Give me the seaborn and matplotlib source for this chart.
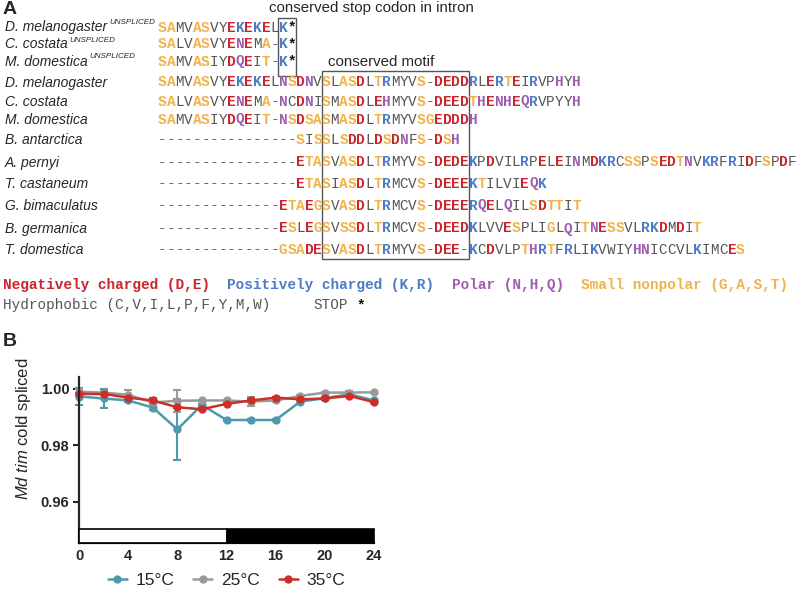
import matplotlib
matplotlib.use("Agg")
import matplotlib.pyplot as plt
from matplotlib.patches import Rectangle
import numpy as np
import pandas as pd
import seaborn as sns

# ---- panel A: alignment ----
species = ["D. melanogaster", "C. costata", "M. domestica",
           "D. melanogaster", "C. costata", "M. domestica", "B. antarctica",
           "A. pernyi", "T. castaneum", "G. bimaculatus", "B. germanica", "T. domestica"]
unspliced = [True, True, True] + [False] * 9
sequences = [
    "SAMVASVYEKEKELK*",
    "SALVASVYENEMA-K*",
    "SAMVASIYDQEIT-K*",
    "SAMVASVYEKEKELNSDNVSLASDLTRMYVS-DEDDRLERTEIRVPHYH",
    "SALVASVYENEMA-NCDNISMASDLEHMYVS-DEEDTHENHEQRVPYYH",
    "SAMVASIYDQEIT-NSDSASMASDLTRMYVSGEDDDH",
    "----------------SISSLSDDLDSDNFS-DSH",
    "----------------ETASVASDLTRMYVS-DEDEKPDVILRPELEINMDKRCSSPSEDTNVKRFRIDFSPDF",
    "----------------ETASIASDLTRMCVS-DEEEKTILVIEQK",
    "--------------ETAEGSVASDLTRMCVS-DEEERQELQILSDTTIT",
    "--------------ESLEGSVSSDLTRMCVS-DEEDKLVVESPLIGLQITNESSVLRKDMDIT",
    "--------------GSADESVASDLTRMYVS-DEE-KCDVLPTHRTFRLIKVWIYHNICCVLKIMCES",
]
stop_box_cols = (14, 16)
motif_box_cols = (19, 36)

legend_row1 = [("Negatively charged (D,E)", "neg"), ("Positively charged (K,R)", "pos"),
               ("Polar (N,H,Q)", "polar"), ("Small nonpolar (G,A,S,T)", "small")]
legend_row2 = [("Hydrophobic (C,V,I,L,P,F,Y,M,W)", "hyd"), ("STOP", "hyd"), ("*", "stop")]

# ---- panel B: Md tim cold spliced ----
time_h = [0, 2, 4, 6, 8, 10, 12, 14, 16, 18, 20, 22, 24]
spliced_15 = [0.9973, 0.9966, 0.9959, 0.9934, 0.9857, 0.9943, 0.9890, 0.9890, 0.9890, 0.9955, 0.9967, 0.9981, 0.9959]
spliced_25 = [0.9990, 0.9987, 0.9979, 0.9952, 0.9958, 0.9959, 0.9959, 0.9955, 0.9959, 0.9975, 0.9987, 0.9987, 0.9988]
spliced_35 = [0.9982, 0.9982, 0.9969, 0.9959, 0.9935, 0.9928, 0.9947, 0.9959, 0.9969, 0.9963, 0.9966, 0.9975, 0.9953]
err_15 = [0.0030, 0.0032, 0.0006, 0.0008, 0.0108, 0.0004, 0.0002, 0.0002, 0.0002, 0.0004, 0.0004, 0.0006, 0.0003]
err_25 = [0.0008, 0.0006, 0.0017, 0.0010, 0.0038, 0.0002, 0.0003, 0.0016, 0.0004, 0.0003, 0.0003, 0.0006, 0.0002]
err_35 = [0.0004, 0.0003, 0.0004, 0.0010, 0.0004, 0.0004, 0.0003, 0.0004, 0.0003, 0.0003, 0.0004, 0.0003, 0.0004]
temps = ["15°C", "25°C", "35°C"]

sns.set_style("ticks")
plt.rcParams["font.family"] = ["Liberation Sans", "DejaVu Sans"]
plt.rcParams["mathtext.fontset"] = "custom"
plt.rcParams["mathtext.it"] = "Liberation Sans:italic"
plt.rcParams["mathtext.rm"] = "Liberation Sans"

class_colors = {"neg": "#C9252E", "pos": "#4D7BC6", "polar": "#A05CB0",
                "small": "#F0B24A", "hyd": "#555555", "stop": "#111111", "gap": "#666666"}
aa_class = {}
for aa in "DE":
    aa_class[aa] = "neg"
for aa in "KR":
    aa_class[aa] = "pos"
for aa in "NHQ":
    aa_class[aa] = "polar"
for aa in "GAST":
    aa_class[aa] = "small"
for aa in "CVILPFYMW":
    aa_class[aa] = "hyd"
aa_class["*"] = "stop"
aa_class["-"] = "gap"

fig = plt.figure(figsize=(7.97, 5.90), dpi=100)
ax_a = fig.add_axes([0, 0, 1, 1])
ax_a.set_xlim(0, 797)
ax_a.set_ylim(590, 0)
ax_a.axis("off")
renderer = fig.canvas.get_renderer()

X0, CW = 158, 8.63
row_y = [27, 44, 61, 82, 101, 119, 139, 162, 183, 205, 228, 249]
seq_fs = 10.4

ax_a.text(3, 9, "A", fontsize=14, fontweight="bold", va="center")
ax_a.text(3, 342, "B", fontsize=14, fontweight="bold", va="center")

for r, (name, seq, unsp) in enumerate(zip(species, sequences, unspliced)):
    yb = row_y[r] + 4.5
    t = ax_a.text(5, yb, name, style="italic", fontsize=10, va="baseline")
    if unsp:
        bb = t.get_window_extent(renderer)
        ax_a.text(bb.x1 + 2, yb - 7, "UNSPLICED", style="italic", fontsize=5.8, va="baseline")
    for col, ch in enumerate(seq):
        cls = aa_class[ch]
        bold = cls not in ("hyd", "gap")
        ax_a.text(X0 + (col + 0.5) * CW, yb, ch, ha="center", va="baseline",
                  family="Liberation Mono", fontsize=seq_fs,
                  fontweight="bold" if bold else "normal", color=class_colors[cls])

# boxes
y_stop = (18, 76)
ax_a.add_patch(Rectangle((X0 + stop_box_cols[0] * CW - 1, y_stop[0]),
                         (stop_box_cols[1] - stop_box_cols[0]) * CW + 1, y_stop[1] - y_stop[0],
                         fill=False, edgecolor="#555555", lw=1))
y_motif = (71, 259)
ax_a.add_patch(Rectangle((X0 + motif_box_cols[0] * CW, y_motif[0]),
                         (motif_box_cols[1] - motif_box_cols[0]) * CW, y_motif[1] - y_motif[0],
                         fill=False, edgecolor="#555555", lw=1))
ax_a.text(269, 8, "conserved stop codon in intron", fontsize=10.8, va="center")
ax_a.text(328, 62, "conserved motif", fontsize=10.8, va="center")

# colour key
XL = 3
col = 0
for txt, cls in legend_row1:
    ax_a.text(XL + col * CW, 289, txt, family="Liberation Mono", fontsize=seq_fs,
              fontweight="bold", color=class_colors[cls], va="baseline")
    col += len(txt) + 2
col = 0
for txt, cls in legend_row2:
    ax_a.text(XL + col * CW, 309, txt, family="Liberation Mono", fontsize=seq_fs,
              fontweight="bold" if cls == "stop" else "normal",
              color=class_colors[cls], va="baseline")
    col += len(txt) + (5 if txt.startswith("Hydro") else 1)

# ---- panel B ----
ax_b = fig.add_axes([79 / 797, 47 / 590, 295 / 797, 166 / 590])
palette = {"15°C": "#4C9AAA", "25°C": "#9A9A9A", "35°C": "#CC2F2A"}
df = pd.DataFrame({
    "time": time_h * 3,
    "spliced": spliced_15 + spliced_25 + spliced_35,
    "err": err_15 + err_25 + err_35,
    "temp": [temps[0]] * 13 + [temps[1]] * 13 + [temps[2]] * 13,
})
for tp in temps:
    sub = df[df.temp == tp]
    ax_b.errorbar(sub.time, sub.spliced, yerr=sub.err, fmt="none", ecolor=palette[tp],
                  elinewidth=1.5, capsize=3, capthick=1.5, clip_on=False)
sns.lineplot(data=df, x="time", y="spliced", hue="temp", hue_order=temps, palette=palette,
             marker="o", markersize=6, markeredgewidth=0, linewidth=1.8,
             errorbar=None, ax=ax_b, clip_on=False)

ax_b.set_xlim(0, 24)
ax_b.set_ylim(0.9455, 1.0042)
ax_b.set_xticks(range(0, 25, 4))
ax_b.set_yticks([0.96, 0.98, 1.00])
ax_b.set_yticklabels(["0.96", "0.98", "1.00"])
for lab in ax_b.get_xticklabels() + ax_b.get_yticklabels():
    lab.set_fontweight("bold")
    lab.set_fontsize(10.5)
ax_b.tick_params(axis="x", length=0, pad=4)
ax_b.tick_params(axis="y", length=4, width=1.5, pad=3)
sns.despine(ax=ax_b)
ax_b.spines["left"].set_linewidth(1.6)
ax_b.spines["bottom"].set_linewidth(1.6)
ax_b.set_xlabel("")
ax_b.set_ylabel(r"$\it{Md\ tim}$ cold spliced", fontsize=12)
ax_b.yaxis.set_label_coords(-0.155, 0.69)

trans = ax_b.get_xaxis_transform()
ax_b.add_patch(Rectangle((0, 0), 12, 0.084, transform=trans, facecolor="white",
                         edgecolor="black", lw=1.2, clip_on=False, zorder=3))
ax_b.add_patch(Rectangle((12, 0), 12, 0.084, transform=trans, facecolor="black",
                         edgecolor="black", lw=1.2, clip_on=False, zorder=3))

handles, labels = ax_b.get_legend_handles_labels()
ax_b.legend(handles, labels, loc="center", bbox_to_anchor=(0.5, -0.225), ncol=3,
            frameon=False, fontsize=12.5, handlelength=1.1, columnspacing=1.1,
            handletextpad=0.5)

fig.savefig("out.png", dpi=100)
